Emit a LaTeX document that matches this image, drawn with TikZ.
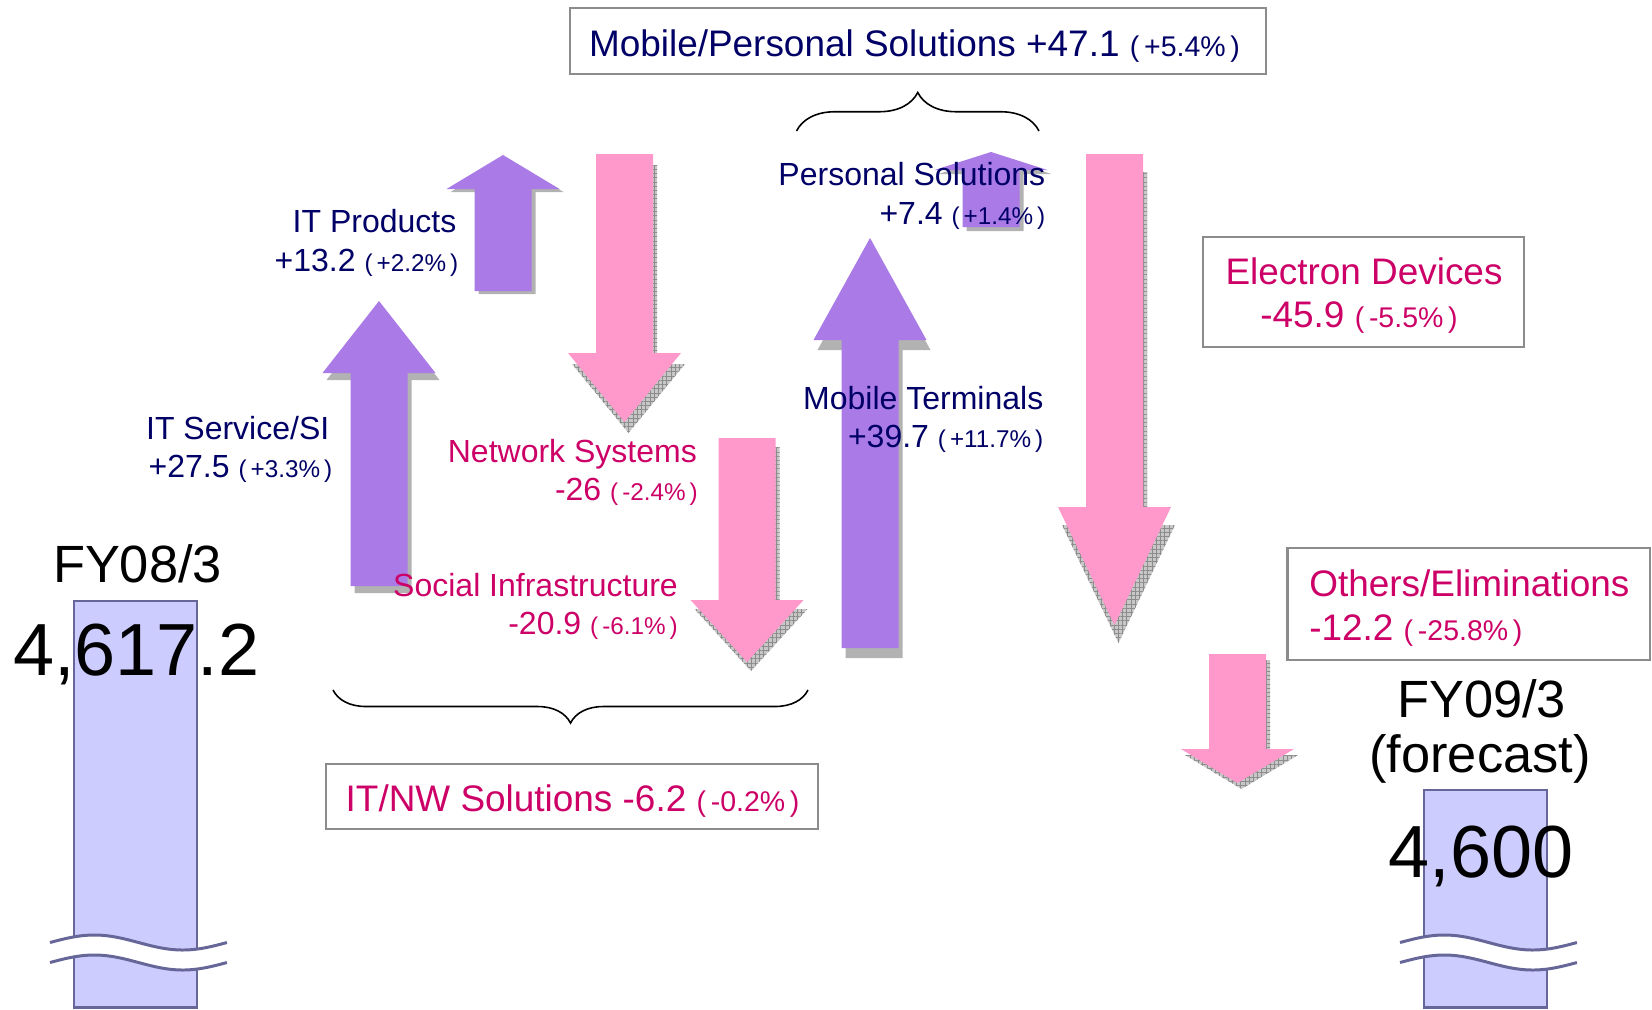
\documentclass[tikz,border=0pt]{standalone}
\usepackage{fontspec}
\setmainfont{Liberation Sans}
\usetikzlibrary{decorations.pathreplacing,patterns.meta}

\definecolor{navytext}{RGB}{0,0,102}
\definecolor{redtext}{RGB}{204,0,102}
\definecolor{uppurple}{RGB}{170,122,230}
\definecolor{downpink}{RGB}{255,153,204}
\definecolor{shadegray}{RGB}{178,178,178}
\definecolor{barfill}{RGB}{204,204,255}
\definecolor{barline}{RGB}{102,102,153}
\definecolor{boxline}{RGB}{140,140,140}

\newcommand{\shafthw}{28.5}
\newcommand{\headhw}{56.5}
\newcommand{\pct}[2][6.9]{{\fontsize{#1}{#1}\selectfont(\,#2\,)}}
\newcommand{\blockarrow}[6]{%
  \fill[#1 shade, shift={(4,#6)}] ({#2-\shafthw},#3) -- ({#2-\shafthw},#4) -- ({#2-\headhw},#4) -- (#2,#5)
    -- ({#2+\headhw},#4) -- ({#2+\shafthw},#4) -- ({#2+\shafthw},#3) -- cycle;
  \fill[#1 arrow] ({#2-\shafthw},#3) -- ({#2-\shafthw},#4) -- ({#2-\headhw},#4) -- (#2,#5)
    -- ({#2+\headhw},#4) -- ({#2+\shafthw},#4) -- ({#2+\shafthw},#3) -- cycle;}

\begin{document}
\begin{tikzpicture}[x=0.01cm,y=-0.01cm,
    up arrow/.style={fill=uppurple},
    up shade/.style={fill=shadegray},
    down arrow/.style={fill=downpink},
    down shade/.style={fill=black!22,postaction={pattern={Hatch[angle=0,distance=1.2pt,line width=0.2pt]},pattern color=black!45}},
    seg/.style={font=\fontsize{9.1}{11}\selectfont,inner sep=0pt,anchor=base east},
    gain/.style={seg,text=navytext},
    loss/.style={seg,text=redtext},
    framebox/.style={draw=boxline,line width=0.6pt,inner sep=0pt},
    boxtext/.style={font=\fontsize{10.5}{12}\selectfont,inner sep=0pt,anchor=base},
    bar/.style={draw=barline,fill=barfill,line width=0.6pt},
    year/.style={font=\fontsize{14.9}{15.5}\selectfont,inner sep=0pt,anchor=base},
    total/.style={font=\fontsize{21}{24}\selectfont,inner sep=0pt,anchor=base},
    curly/.style={decorate,decoration={brace,amplitude=#1},line width=0.45pt}]
  \useasboundingbox (0,0) rectangle (1652,1009);

  \draw[bar] (74,601) rectangle (197,1007.5);
  \draw[bar] (1424,790) rectangle (1547,1007.5);
  \foreach \wx in {50,1400} {
    \draw[white,line width=5.7pt] plot[domain=0:1,samples=60,smooth] ({\wx+177*\x},{952.5-7.5*sin(360*\x)});
    \foreach \wy in {942.5,962.5}
      \draw[barline,line width=0.85pt] plot[domain=0:1,samples=60,smooth] ({\wx+177*\x},{\wy-7.5*sin(360*\x)});
  }

  \blockarrow{up}{379}{586}{373}{301}{7}
  \blockarrow{up}{503}{291}{189}{155}{3}
  \blockarrow{down}{624.5}{154}{353}{422}{11}
  \blockarrow{down}{747}{438}{600}{662}{9}
  \blockarrow{up}{870}{648}{340}{238}{10}
  \blockarrow{up}{991}{227}{170}{152}{4}
  \blockarrow{down}{1114.5}{154}{507}{625}{18}
  \blockarrow{down}{1237.5}{654}{749}{783}{6}

  \node[framebox,minimum width=6.96cm,minimum height=0.653cm] (mpbox) at (918,41) {};
  \node[framebox,minimum width=4.91cm,minimum height=0.654cm] (nwbox) at (572,796.5) {};
  \node[framebox,minimum width=3.205cm,minimum height=1.096cm] (edbox) at (1363.3,291.8) {};
  \node[framebox,minimum width=3.625cm,minimum height=1.116cm] (obox) at (1468.8,603.8) {};

  \node[boxtext,text=navytext] (mptext) at (914.5,56) {Mobile/Personal Solutions +47.1 \pct[8.1]{+5.4\%}};
  \node[boxtext,text=redtext] (nwtext) at (572.6,811) {IT/NW Solutions -6.2 \pct[8.1]{-0.2\%}};
  \node[boxtext,text=redtext] (edname) at (1364,284.5) {Electron Devices};
  \node[boxtext,text=redtext] (edval) at (1359,327.7) {-45.9 \pct[8.1]{-5.5\%}};
  \node[boxtext,text=redtext,anchor=base west] (oname) at (1308.6,596.3) {Others/Eliminations};
  \node[boxtext,text=redtext,anchor=base west] (oval) at (1308.6,640.6) {-12.2 \pct[8.1]{-25.8\%}};

  \coordinate (mpL) at (796.5,131);
  \coordinate (mpR) at (1039,131);
  \draw[curly=0.385cm] (mpL) -- (mpR);
  \coordinate (nwL) at (333,690);
  \coordinate (nwR) at (808,690);
  \draw[curly=0.33cm] (nwR) -- (nwL);

  \node[gain] (itprod) at (457,232) {IT Products};
  \node[gain] (itprodval) at (459,271) {+13.2 \pct{+2.2\%}};
  \node[gain] (itserv) at (330,439) {IT Service/SI};
  \node[gain] (itservval) at (333,477) {+27.5 \pct{+3.3\%}};
  \node[loss] (netsys) at (697.5,462.5) {Network Systems};
  \node[loss] (netsysval) at (698.5,500.5) {-26 \pct{-2.4\%}};
  \node[loss] (social) at (678.5,596) {Social Infrastructure};
  \node[loss] (socialval) at (678.5,634) {-20.9 \pct{-6.1\%}};
  \node[gain] (mobterm) at (1044,409) {Mobile Terminals};
  \node[gain] (mobtermval) at (1044,447) {+39.7 \pct{+11.7\%}};
  \node[gain] (perssol) at (1046,185.5) {Personal Solutions};
  \node[gain] (perssolval) at (1046,224.5) {+7.4 \pct{+1.4\%}};

  \node[year] (fy08) at (137.5,582) {FY08/3};
  \node[total] (v08) at (136.3,675) {4,617.2};
  \node[year] (fy09) at (1481.5,717.5) {FY09/3};
  \node[year] (fc09) at (1480,772) {(forecast)};
  \node[total] (v09) at (1481,877) {4,600};
\end{tikzpicture}
\end{document}
